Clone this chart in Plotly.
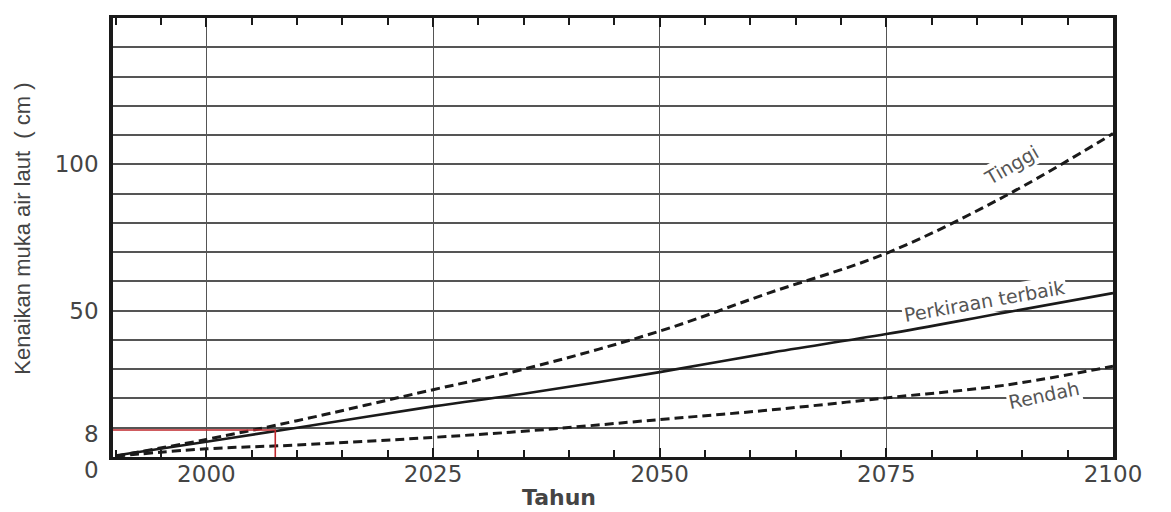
import plotly.graph_objects as go

# values (cm of sea level rise)
years = [1990, 2000, 2010, 2025, 2035, 2050, 2062, 2075, 2088, 2100]
tinggi = [0.3, 6.0, 12.4, 23.0, 30.0, 43.0, 56.0, 69.6, 89.0, 110.5]
terbaik = [0.5, 5.2, 10.0, 17.3, 21.6, 29.0, 35.5, 42.0, 49.3, 56.0]
rendah = [0.3, 2.8, 4.1, 6.7, 8.8, 12.8, 16.0, 20.2, 24.5, 31.0]

red_x = [1989.7, 2007.6, 2007.6]
red_y = [9.2, 9.2, 0]

x_ticks = [2000, 2025, 2050, 2075, 2100]
y_grid = list(range(0, 151, 10))
y_labels = {50: "50", 100: "100"}

INK = "#1a1a1a"
GREY = "#444444"
FONT = "DejaVu Sans"

fig = go.Figure()
fig.add_trace(go.Scatter(x=years, y=tinggi, mode="lines",
                         line=dict(color=INK, width=3, dash="9px,5px", shape="spline")))
fig.add_trace(go.Scatter(x=years, y=terbaik, mode="lines",
                         line=dict(color=INK, width=2.6, shape="spline")))
fig.add_trace(go.Scatter(x=years, y=rendah, mode="lines",
                         line=dict(color=INK, width=3, dash="9px,5px", shape="spline")))
fig.add_trace(go.Scatter(x=red_x, y=red_y, mode="lines",
                         line=dict(color="#c0272d", width=1.6)))

# curve labels
for txt, x, y, ang in [("Tinggi", 2088.8, 99.7, -30),
                       ("Perkiraan terbaik", 2085.8, 53.2, -10),
                       ("Rendah", 2092.4, 21.3, -12)]:
    fig.add_annotation(x=x, y=y, text=txt, showarrow=False, textangle=ang,
                       bgcolor="white", font=dict(family=FONT, size=19, color="#555555"))

# y labels that sit off the grid
fig.add_annotation(x=0, y=8, xref="paper", yref="y", text="8", showarrow=False,
                   xanchor="right", xshift=-12, font=dict(family=FONT, size=23, color=GREY))
fig.add_annotation(x=0, y=0, xref="paper", yref="y", text="0", showarrow=False,
                   xanchor="right", xshift=-12, yshift=-13,
                   font=dict(family=FONT, size=23, color=GREY))

# axis titles, placed where the scan has them
fig.add_annotation(x=0.446, y=0, xref="paper", yref="paper", text="<b>Tahun</b>",
                   showarrow=False, yanchor="top", yshift=-27, borderpad=0,
                   font=dict(family=FONT, size=22, color=GREY))
fig.add_annotation(x=0, y=0.52, xref="paper", yref="paper",
                   text="Kenaikan muka air laut  ( cm )", showarrow=False,
                   textangle=-90, xanchor="center", xshift=-90,
                   font=dict(family="Liberation Sans", size=22, color=GREY))

# the html page adds an 8px body margin, so the figure is sized to fit inside it
fig.update_layout(
    width=1163, height=504,
    margin=dict(l=105, r=58, t=7, b=55),
    paper_bgcolor="white", plot_bgcolor="white",
    showlegend=False,
    xaxis=dict(
        range=[1989.7, 2100], tickvals=x_ticks,
        ticks="inside", ticklen=9, tickwidth=2, tickcolor=INK,
        minor=dict(dtick=5, tick0=2000, ticks="inside", ticklen=7,
                   tickwidth=1.5, tickcolor=INK, showgrid=False),
        showgrid=True, gridcolor="#555555", gridwidth=1.3,
        showline=True, linecolor=INK, linewidth=3, mirror="ticks",
        zeroline=False, ticklabelstandoff=-6,
        tickfont=dict(family=FONT, size=23, color=GREY),
    ),
    yaxis=dict(
        range=[0, 150], tickvals=y_grid,
        ticktext=[y_labels.get(v, "") for v in y_grid],
        ticks="", showgrid=True, gridcolor="#555555", gridwidth=1.5,
        showline=True, linecolor=INK, linewidth=3.5, mirror=True,
        zeroline=False, ticklabelstandoff=6,
        tickfont=dict(family=FONT, size=23, color=GREY),
    ),
)

fig.write_html("out.html")
